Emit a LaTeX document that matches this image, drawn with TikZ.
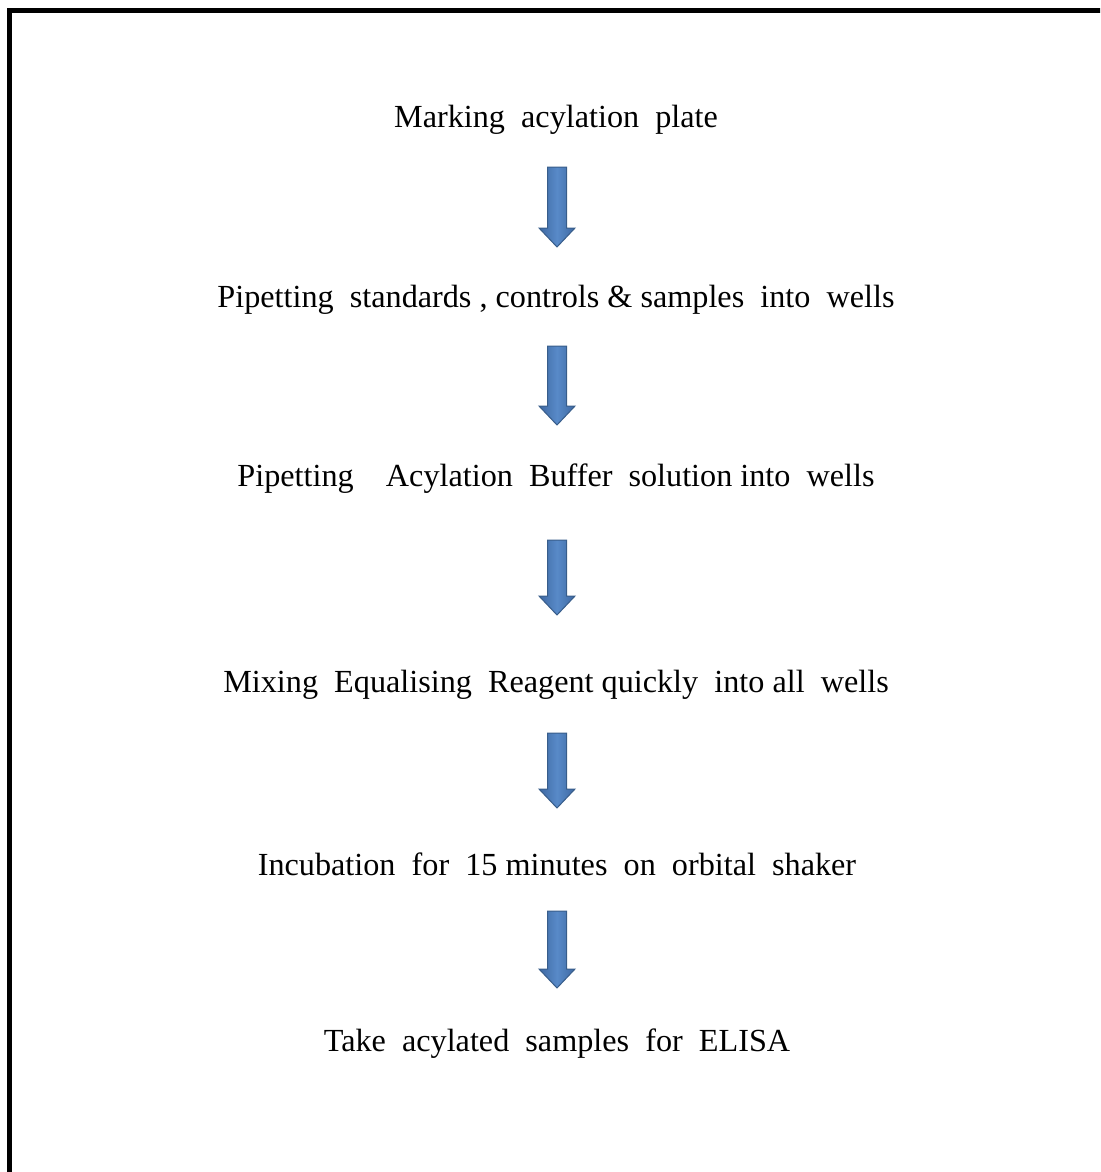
\documentclass[tikz,border=0pt]{standalone}
\usepackage{fontspec}
\setmainfont{Liberation Serif}
\usetikzlibrary{calc}
\definecolor{arrowedge}{RGB}{56,93,138}
\definecolor{arrowdark}{RGB}{62,104,162}
\definecolor{arrowlight}{RGB}{88,138,200}
\newcommand{\dsp}{\hspace{0.5em}}
\newcommand{\blockarrow}[2]{%
  \path[blockarr] let \p1=(#1), \p2=(#2) in
    (\x1-9.5pt,\y1) -- (\x1+9.5pt,\y1) -- (\x1+9.5pt,\y2+19pt) -- (\x1+18pt,\y2+19pt)
    -- (\x1,\y2) -- (\x1-18pt,\y2+19pt) -- (\x1-9.5pt,\y2+19pt) -- cycle;}
\tikzset{
  steptext/.style={inner sep=0pt, anchor=center, font=\fontsize{32.2}{38}\selectfont},
  blockarr/.style={draw=arrowedge, line width=1pt, left color=arrowdark, right color=arrowdark, middle color=arrowlight, shading angle=90},
  frame/.style={line width=5pt, line cap=butt}
}
\begin{document}
\begin{tikzpicture}[x=1pt,y=-1pt]
\useasboundingbox (0,0) rectangle (1100,1172);
\clip (0,0) rectangle (1100,1172);
\draw[frame] (9,1200) -- (9,10.5) -- (1130,10.5);
\node[steptext] (t1) at (556,120) {Marking\dsp acylation\dsp plate};
\node[steptext] (t2) at (556,300) {Pipetting\dsp standards , controls \& samples\dsp into\dsp wells};
\node[steptext] (t3) at (556,479) {Pipetting\dsp\dsp Acylation\dsp Buffer\dsp solution into\dsp wells};
\node[steptext] (t4) at (556,685) {Mixing\dsp Equalising\dsp Reagent quickly\dsp into all\dsp wells};
\node[steptext] (t5) at (557,864) {Incubation\dsp for\dsp 15 minutes\dsp on\dsp orbital\dsp shaker};
\node[steptext] (t6) at (557,1044) {Take\dsp acylated\dsp samples\dsp for\dsp ELISA};
\coordinate (a1s) at (557,167); \coordinate (a1e) at (557,247);
\coordinate (a2s) at (557,346); \coordinate (a2e) at (557,425);
\coordinate (a3s) at (557,540); \coordinate (a3e) at (557,615);
\coordinate (a4s) at (557,733); \coordinate (a4e) at (557,808);
\coordinate (a5s) at (557,911); \coordinate (a5e) at (557,988);
\blockarrow{a1s}{a1e}
\blockarrow{a2s}{a2e}
\blockarrow{a3s}{a3e}
\blockarrow{a4s}{a4e}
\blockarrow{a5s}{a5e}
\end{tikzpicture}
\end{document}
